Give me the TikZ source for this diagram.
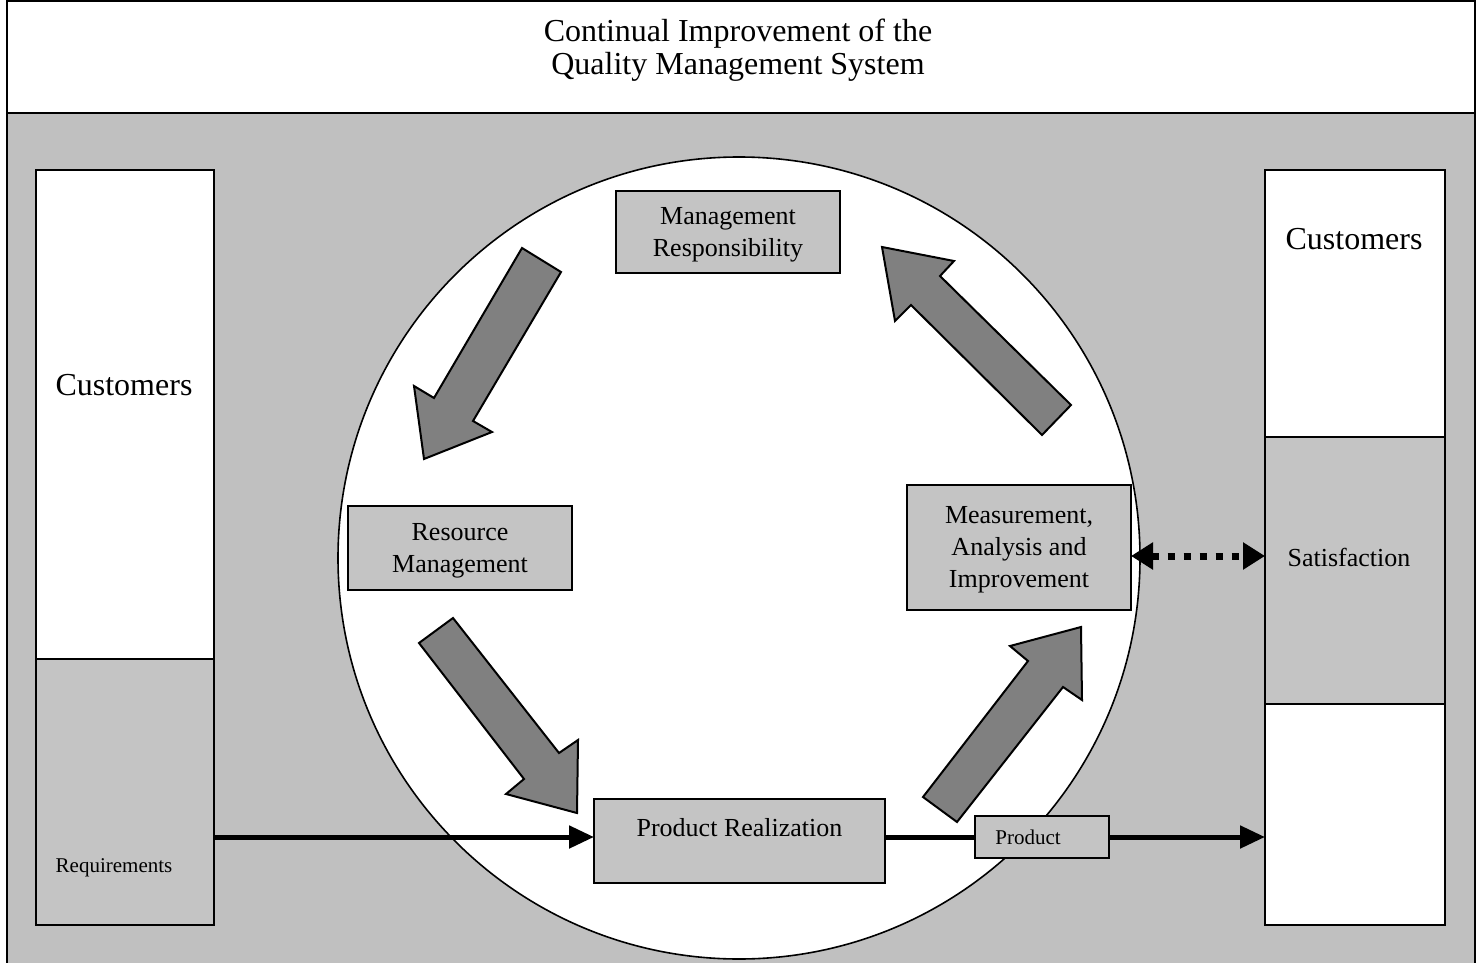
\documentclass[tikz,border=0pt]{standalone}
\usepackage{fontspec}
\setmainfont{Liberation Serif}
\usetikzlibrary{arrows.meta}
\definecolor{bg}{HTML}{C0C0C0}
\definecolor{dotg}{HTML}{C4C4C4}
\definecolor{blk}{HTML}{808080}
\begin{document}
\begin{tikzpicture}[x=0.5pt,y=-0.5pt,
  box/.style={draw=black,line width=1pt,fill=dotg,rectangle,inner sep=0pt,align=center,font=\fontsize{13}{16}\selectfont},
  panel/.style={draw=black,line width=1pt,rectangle,inner sep=0pt},
  bigtext/.style={font=\fontsize{16}{16.5}\selectfont,align=center},
  smalltext/.style={font=\fontsize{10.5}{12}\selectfont},
  blockarrow/.style={fill=blk,draw=black,line width=1pt,line join=miter},
  flow/.style={line width=2.5pt,-{Triangle[length=12.5pt,width=11pt]}},
  dotflow/.style={line width=3.5pt,dash pattern=on 3.5pt off 4.5pt,
    {Triangle[length=11pt,width=13pt]}-{Triangle[length=11pt,width=13pt]}}
  ]
\useasboundingbox (0,0) rectangle (1477,963);
% frame
\fill[white] (0,0) rectangle (1477,963);
\fill[bg] (7,113) rectangle (1475,970);
\draw[line width=1pt] (7,1) rectangle (1475,990);
\draw[line width=1pt] (7,113) -- (1475,113);
\node[bigtext] (title) at (738,50) {Continual Improvement of the\\Quality Management System};
% circle
\node[circle,draw=black,line width=0.8pt,fill=white,minimum size=401pt,inner sep=0pt] (circ) at (739,558) {};
% customer panels
\node[panel,fill=white,minimum width=89pt,minimum height=244.5pt] (clt) at (125,414.5) {};
\node[panel,fill=dotg,minimum width=89pt,minimum height=133pt] (clb) at (125,792) {};
\node[panel,fill=white,minimum width=90pt,minimum height=133.5pt] (crt) at (1355,303.5) {};
\node[panel,fill=dotg,minimum width=90pt,minimum height=133.5pt] (crm) at (1355,570.5) {};
\node[panel,fill=white,minimum width=90pt,minimum height=110.5pt] (crb) at (1355,814.5) {};
\node[font=\fontsize{16}{16}\selectfont] (custL) at (124,385) {Customers};
\node[font=\fontsize{16}{16}\selectfont] (custR) at (1354,239) {Customers};
\node[smalltext] (req) at (114,868) {Requirements};
\node[font=\fontsize{13}{16}\selectfont] (sat) at (1349,557) {Satisfaction};
% process boxes
\node[box,minimum width=112pt,minimum height=41pt] (mr) at (728,232) {\rule{0pt}{11pt}Management\\Responsibility};
\node[box,minimum width=112pt,minimum height=42pt] (rm) at (460,548) {\rule{0pt}{11pt}Resource\\Management};
\node[box,minimum width=112pt,minimum height=62.5pt] (mai) at (1019,547.5) {\rule{0pt}{11pt}Measurement,\\Analysis and\\Improvement};
\node[box,minimum width=145.5pt,minimum height=42pt,text height=9pt,text depth=13.4pt] (pr) at (739.5,841) {Product Realization};
% block arrows
\draw[blockarrow] (522,248) -- (561,272) -- (473,421) -- (492,432) -- (424,459) -- (414,386) -- (434,398) -- cycle;
\draw[blockarrow] (882,247) -- (954,261) -- (940,276) -- (1071,405) -- (1042,435) -- (911,305) -- (895,321) -- cycle;
\draw[blockarrow] (1081,627) -- (1082,700) -- (1063,687) -- (957,822) -- (923,797) -- (1028,661) -- (1010,646) -- cycle;
\draw[blockarrow] (577,813) -- (578,740) -- (559,753) -- (453,618) -- (419,643) -- (524,779) -- (506,794) -- cycle;
% product flow
\coordinate (reqout) at (214,837);
\coordinate (prin) at (594,837);
\draw[flow] (reqout) -- (prin);
\node[box,font=\fontsize{10.5}{12}\selectfont,minimum width=67pt,minimum height=21pt] (prod) at (1042,837) {Product\hspace*{14pt}};
\draw[line width=2.5pt] (pr.east |- prod.west) -- (prod.west);
\coordinate (crin) at (1265,837);
\draw[flow] (prod.east) -- (crin);
% satisfaction feedback
\coordinate (maiout) at (1131,556);
\coordinate (satin) at (1265,556);
\draw[dotflow] (maiout) -- (satin);
\end{tikzpicture}
\end{document}
